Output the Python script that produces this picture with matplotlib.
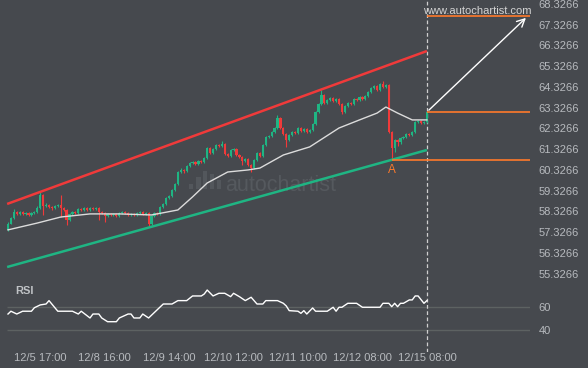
import matplotlib
matplotlib.use("Agg")
import matplotlib.pyplot as plt

plt.rcParams["font.family"] = ["Liberation Sans", "DejaVu Sans"]

# hourly candles, index 0..143
first_open = 57.44
closes = [
    57.73, 58.01, 58.30, 58.21, 58.30, 58.21, 58.26, 58.16, 58.26, 58.30,
    58.50, 59.12, 58.59, 58.64, 58.54, 58.50, 58.59, 58.64, 58.50, 58.40,
    57.92, 58.21, 58.30, 58.26, 58.45, 58.40, 58.50, 58.40, 58.50, 58.45,
    58.50, 58.30, 58.26, 58.11, 58.21, 58.16, 58.21, 58.11, 58.26, 58.30,
    58.26, 58.16, 58.21, 58.16, 58.26, 58.30, 58.21, 58.26, 57.73, 58.11,
    58.26, 58.21, 58.54, 58.69, 58.98, 59.07, 59.36, 59.65, 60.23, 60.33,
    60.28, 60.52, 60.66, 60.71, 60.62, 60.76, 60.71, 60.90, 61.39, 61.15,
    61.34, 61.53, 61.48, 61.58, 61.10, 61.00, 61.29, 61.34, 61.05, 60.95,
    60.76, 60.86, 60.57, 60.42, 60.81, 61.15, 61.00, 61.53, 61.92, 61.97,
    62.16, 62.35, 62.83, 62.35, 62.06, 61.77, 62.01, 62.16, 62.11, 62.35,
    62.21, 62.30, 62.16, 62.25, 62.54, 63.12, 63.51, 63.94, 63.56, 63.70,
    63.80, 63.65, 63.75, 63.51, 63.12, 63.41, 63.56, 63.51, 63.75, 63.70,
    63.84, 63.75, 63.89, 64.09, 64.28, 64.38, 64.18, 64.47, 64.33, 64.42,
    62.16, 61.39, 61.77, 61.68, 61.87, 61.92, 62.06, 62.01, 62.16, 62.64,
    62.69, 62.59, 62.64, 63.11,
]
highs = [
    57.80, 58.06, 58.45, 58.36, 58.36, 58.35, 58.31, 58.30, 58.32, 58.36,
    58.58, 59.27, 59.18, 58.72, 58.69, 58.60, 58.66, 58.70, 59.12, 58.55,
    58.45, 58.26, 58.36, 58.35, 58.50, 58.50, 58.55, 58.56, 58.54, 58.55,
    58.55, 58.55, 58.34, 58.30, 58.26, 58.26, 58.26, 58.26, 58.30, 58.35,
    58.35, 58.30, 58.26, 58.26, 58.30, 58.35, 58.34, 58.30, 58.30, 58.16,
    58.30, 58.30, 58.60, 58.74, 59.03, 59.12, 59.42, 59.70, 60.30, 60.40,
    60.38, 60.57, 60.72, 60.78, 60.76, 60.82, 60.81, 60.95, 61.44, 61.44,
    61.40, 61.58, 61.58, 61.72, 61.63, 61.15, 61.34, 61.40, 61.39, 61.10,
    61.00, 60.92, 60.90, 60.62, 60.86, 61.20, 61.20, 61.58, 61.97, 62.03,
    62.21, 62.40, 62.98, 62.88, 62.40, 62.11, 62.06, 62.21, 62.21, 62.40,
    62.40, 62.35, 62.35, 62.30, 62.59, 63.17, 63.56, 64.18, 63.99, 63.76,
    63.86, 63.85, 63.80, 63.80, 63.56, 63.46, 63.61, 63.61, 63.80, 63.80,
    63.89, 63.89, 63.94, 64.14, 64.33, 64.43, 64.43, 64.52, 64.62, 64.47,
    64.47, 62.21, 61.82, 61.82, 61.92, 61.98, 62.11, 62.11, 62.21, 62.69,
    62.74, 62.74, 62.70, 63.16,
]
lows = [
    57.40, 57.70, 57.97, 58.15, 58.16, 58.14, 58.16, 58.10, 58.12, 58.22,
    58.26, 58.45, 58.16, 58.52, 58.48, 58.42, 58.45, 58.54, 58.06, 58.33,
    57.68, 57.86, 58.16, 58.20, 58.21, 58.35, 58.35, 58.36, 58.36, 58.40,
    58.40, 57.92, 58.20, 57.82, 58.06, 58.10, 58.10, 58.05, 58.06, 58.21,
    58.20, 58.10, 58.10, 58.10, 58.10, 58.20, 58.16, 58.16, 57.59, 57.68,
    58.06, 58.16, 58.16, 58.50, 58.64, 58.93, 59.02, 59.30, 59.60, 60.18,
    60.20, 60.24, 60.48, 60.62, 60.56, 60.57, 60.66, 60.66, 60.86, 61.08,
    61.10, 61.30, 61.42, 61.44, 61.05, 60.94, 60.95, 61.24, 61.00, 60.90,
    60.57, 60.71, 60.52, 60.23, 60.38, 60.76, 60.95, 60.95, 61.48, 61.86,
    61.92, 62.11, 62.30, 62.30, 62.00, 61.43, 61.72, 61.96, 62.06, 62.06,
    62.16, 62.16, 62.11, 62.11, 62.21, 62.50, 63.07, 63.46, 63.50, 63.50,
    63.65, 63.60, 63.60, 63.46, 63.02, 63.07, 63.36, 63.46, 63.46, 63.65,
    63.65, 63.70, 63.70, 63.84, 64.04, 64.23, 64.13, 64.13, 64.28, 64.28,
    62.11, 60.80, 61.20, 61.50, 61.60, 61.80, 61.85, 61.95, 61.96, 62.11,
    62.58, 62.52, 62.55, 62.60,
]

# moving average (candle index, price)
ma_idx = [0, 10, 18, 28, 38, 49, 58, 63, 68, 75, 82, 86, 94, 103, 113, 120, 126, 129, 133, 138, 143]
ma_vals = [57.44, 57.77, 58.06, 58.21, 58.21, 58.16, 58.40, 59.03, 59.70, 60.23, 60.33, 60.42,
           61.05, 61.44, 62.35, 62.74, 63.07, 63.36, 63.07, 62.74, 62.74]

# RSI (candle index, value)
rsi_idx = [0, 1, 3, 5, 8, 9, 11, 13, 14, 17, 22, 24, 25, 28, 29, 31, 32, 34, 37, 38,
           41, 42, 43, 45, 46, 48, 53, 56, 58, 61, 63, 66, 67, 68, 70, 72, 74, 76, 77, 79,
           81, 83, 84, 85, 87, 88, 92, 94, 95, 96, 99, 100, 101, 102, 104, 105, 109, 111, 112, 113,
           114, 116, 119, 121, 127, 128, 130, 131, 132, 133, 134, 135, 137, 138, 139, 140, 142, 143]
rsi_vals = [53.7, 56.1, 53.7, 56.1, 56.1, 59.1, 61.5, 62.3, 65.2, 56.1, 56.1, 53.7, 56.1, 50.3, 53.7,
            53.7, 50.3, 47.1, 47.1, 50.3, 53.7, 53.7, 50.3, 50.3, 53.7, 50.3, 62.3, 62.3, 65.2, 65.2,
            69.2, 69.2, 70.9, 74.3, 69.2, 71.5, 71.5, 68.6, 71.5, 68.6, 65.2, 68.1, 65.2, 62.3, 62.3,
            65.2, 65.2, 62.9, 60.6, 56.6, 56.1, 54.3, 56.6, 53.7, 58.9, 56.1, 56.1, 59.5, 56.1, 59.5,
            59.5, 62.9, 62.9, 59.5, 59.5, 62.9, 62.9, 60.0, 62.9, 60.0, 62.9, 62.9, 65.8, 65.8, 69.2,
            69.2, 62.9, 65.2]

date_idx = [11, 33, 55, 77, 99, 121, 143]
date_labels = ["12/5 17:00", "12/8 16:00", "12/9 14:00", "12/10 12:00",
               "12/11 10:00", "12/12 08:00", "12/15 08:00"]
price_ticks = [55.3266, 56.3266, 57.3266, 58.3266, 59.3266, 60.3266, 61.3266,
               62.3266, 63.3266, 64.3266, 65.3266, 66.3266, 67.3266, 68.3266]
rsi_ticks = [40, 60]

# channel (start index, end index) and prices
chan_idx = [-0.3, 143]
upper_chan = [58.69, 66.06]
lower_chan = [55.65, 61.29]
breakout_level = 63.12
target_level = 67.75
support_level = 60.79
support_start = 131
target_end = 177.5
point_a = (131, 60.79)

# watermark bars (index, top price); bottom shared
wm_idx = [62.5, 65, 67.3, 69.7, 72]
wm_top = [59.65, 59.98, 60.28, 60.14, 59.84]
wm_bottom = 59.41

bg = "#46494e"
green = "#1fb583"
red = "#f03a3a"
orange = "#ff7a2a"
txt = "#b7babe"

fig = plt.figure(figsize=(5.88, 3.68), dpi=100, facecolor=bg)
ax = fig.add_axes([0, 1 - 280 / 368, 530 / 588, 280 / 368], facecolor=bg)
ax2 = fig.add_axes([0, 1 - 352 / 368, 530 / 588, 72 / 368], facecolor=bg, sharex=ax)

xmin, xmax = -2.73, 178.2
ax.set_xlim(xmin, xmax)
ax.set_ylim(55.025, 68.519)
ax2.set_ylim(21.1, 82.9)

for a in (ax, ax2):
    for s in a.spines.values():
        s.set_visible(False)
    a.yaxis.tick_right()
    a.tick_params(axis="y", length=0, pad=6, labelsize=8, labelcolor=txt)

# watermark
ax.bar(wm_idx, [t - wm_bottom for t in wm_top], bottom=wm_bottom, width=1.5,
       color="#53575c", zorder=0)
ax.text(74, 59.6, "autochartist", fontsize=15.5, color="#55595e", va="center",
        ha="left", zorder=0)

# candles
opens = [first_open] + closes[:-1]
idx = list(range(len(closes)))
cols = [green if c >= o else red for o, c in zip(opens, closes)]
ax.vlines(idx, lows, highs, colors=cols, lw=0.8, zorder=3)
bottoms = [min(o, c) for o, c in zip(opens, closes)]
heights = [max(abs(c - o), 0.03) for o, c in zip(opens, closes)]
ax.bar(idx, heights, bottom=bottoms, width=0.75, color=cols, lw=0, zorder=3)

ax.plot(ma_idx, ma_vals, color="#dcdcdc", lw=1.0, zorder=4)

# channel
ax.plot(chan_idx, upper_chan, color=red, lw=1.8, zorder=5, solid_capstyle="butt")
ax.plot(chan_idx, lower_chan, color=green, lw=1.8, zorder=5, solid_capstyle="butt")

# levels and target
ax.hlines(target_level, 143, xmax, color=orange, lw=1.2, zorder=5)
ax.hlines(breakout_level, 143, xmax, color=orange, lw=1.2, zorder=5)
ax.hlines(support_level, support_start, xmax, color=orange, lw=1.2, zorder=5)
ax.annotate("", xy=(target_end, target_level), xytext=(143, breakout_level),
            arrowprops=dict(arrowstyle="->", color="white", lw=1.0,
                            mutation_scale=14), zorder=6)
ax.text(point_a[0], point_a[1] - 0.18, "A", color=orange, fontsize=8.5,
        ha="center", va="top", zorder=6)

for a in (ax, ax2):
    a.axvline(143, color="#cfcfcf", lw=0.9, ls=(0, (3, 2)), zorder=2)

ax.text(0.9, 0.962, "www.autochartist.com", transform=ax.transAxes,
        color="#d4d4d4", fontsize=8, ha="center", va="center")

ax.set_yticks(price_ticks)
ax.set_yticklabels([f"{p:.4f}" for p in price_ticks])
ax.tick_params(axis="x", length=0, labelbottom=False)

# RSI panel
ax2.hlines(rsi_ticks, -0.3, xmax, color="#5d6262", lw=1, zorder=1)
ax2.plot(rsi_idx, rsi_vals, color="white", lw=1.0, zorder=3)
ax2.text(2.4, 73.5, "RSI", color="#c0c3c6", fontsize=8, fontweight="bold",
         va="center", ha="left")
ax2.set_yticks(rsi_ticks)
ax2.set_yticklabels([str(t) for t in rsi_ticks])
ax2.set_xticks(date_idx)
ax2.set_xticklabels(date_labels)
ax2.tick_params(axis="x", length=0, pad=1, labelsize=8, labelcolor=txt)

fig.savefig("out.png", dpi=100, facecolor=bg)
